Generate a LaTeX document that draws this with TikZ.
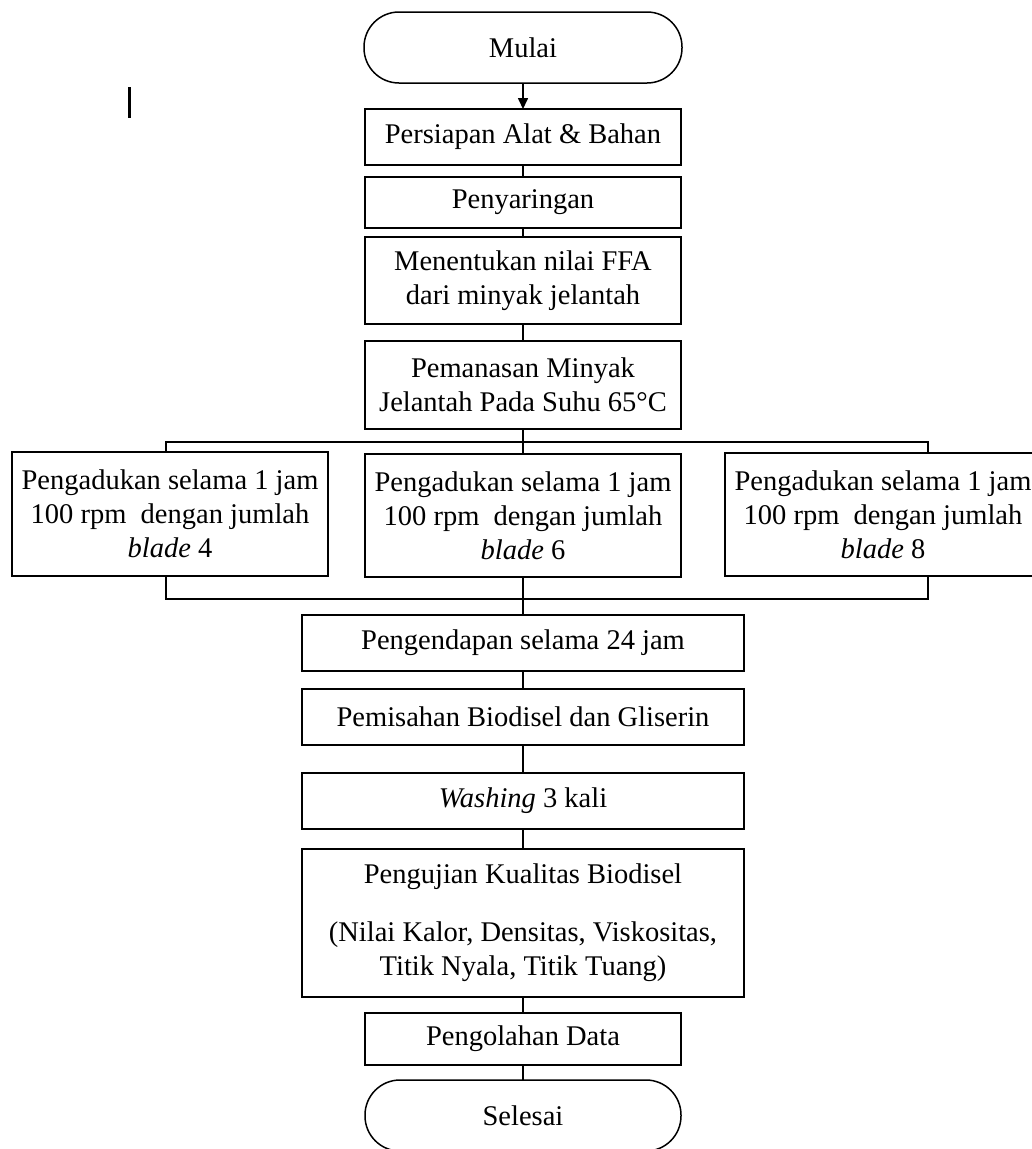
\documentclass[tikz,border=0pt]{standalone}
\usepackage{fontspec}
\setmainfont{Liberation Serif}
\usetikzlibrary{arrows.meta}

\begin{document}
\begin{tikzpicture}
    [x = 1pt, y = -1pt, outer sep = 0pt,
    stepbox/.style={rectangle, draw=black, line width = 1.8pt, inner
      sep = 0pt, align=center, minimum width = 316pt,
      font={\fontsize{28.5}{34}\selectfont}},
    widebox/.style={stepbox, minimum width = 442pt},
    terminal/.style={stepbox, line width = 1.5pt, rounded corners = 35pt,
      minimum height = 71pt},
    link/.style={line width = 1.6pt}]

    \useasboundingbox (0,0) rectangle (1032,1149);

    % column of steps
    \node [terminal, minimum width = 318pt] (mulai) at (523,47.5) {Mulai};
    \node [stepbox, minimum height = 56pt] (persiapan) at (523,137) {Persiapan Alat \& Bahan};
    \node [stepbox, minimum height = 51pt] (penyaringan) at (523,202.5) {Penyaringan};
    \node [stepbox, minimum height = 87pt] (nilai_ffa) at (523,280.5)
    {Menentukan nilai FFA\\dari minyak jelantah};
    \node [stepbox, minimum height = 88pt] (pemanasan) at (523,385)
    {Pemanasan Minyak\\Jelantah Pada Suhu 65°C};

    % three stirring variants
    \node [stepbox, minimum height = 124pt] (aduk_4) at (170,514)
    {Pengadukan selama 1 jam\\100 rpm\ \ dengan jumlah\\\textit{blade} 4};
    \node [stepbox, minimum height = 123pt] (aduk_6) at (523,515.5)
    {Pengadukan selama 1 jam\\100 rpm\ \ dengan jumlah\\\textit{blade} 6};
    \node [stepbox, minimum height = 123pt] (aduk_8) at (883,514.5)
    {Pengadukan selama 1 jam\\100 rpm\ \ dengan jumlah\\\textit{blade} 8};

    \node [widebox, minimum height = 56pt] (pengendapan) at (523,643) {Pengendapan selama 24 jam};
    \node [widebox, minimum height = 56pt] (pemisahan) at (523,717) {Pemisahan Biodisel dan Gliserin};
    \node [widebox, minimum height = 56pt] (washing) at (523,801) {\textit{Washing} 3 kali};
    \node [widebox, minimum height = 148pt] (pengujian) at (523,923)
    {Pengujian Kualitas Biodisel\\[24pt](Nilai Kalor, Densitas, Viskositas,\\Titik Nyala, Titik Tuang)};
    \node [stepbox, minimum height = 52pt] (pengolahan) at (523,1039) {Pengolahan Data};
    \node [terminal] (selesai) at (523,1115.5) {Selesai};

    % connectors
    \draw [link, -{Triangle[length = 11pt, width = 10pt]}] (mulai) -- (persiapan);
    \draw [link] (persiapan) -- (penyaringan);
    \draw [link] (penyaringan) -- (nilai_ffa);
    \draw [link] (nilai_ffa) -- (pemanasan);
    \draw [link] (pemanasan) -- (aduk_6);
    \draw [link] (aduk_6) -- (pengendapan);
    \draw [link] (pengendapan) -- (pemisahan);
    \draw [link] (pemisahan) -- (washing);
    \draw [link] (washing) -- (pengujian);
    \draw [link] (pengujian) -- (pengolahan);
    \draw [link] (pengolahan) -- (selesai);

    \coordinate (split_left) at (166,442);
    \coordinate (split_right) at (928,442);
    \coordinate (join_left) at (166,599);
    \coordinate (join_right) at (928,599);
    \draw [link] (aduk_4.north -| split_left) -- (split_left) -- (split_right)
    -- (aduk_8.north -| split_right);
    \draw [link] (aduk_4.south -| join_left) -- (join_left) -- (join_right)
    -- (aduk_8.south -| join_right);

    % stray cursor mark
    \draw [line width = 3pt] (129,87) -- (129,118);
  \end{tikzpicture}
\end{document}
